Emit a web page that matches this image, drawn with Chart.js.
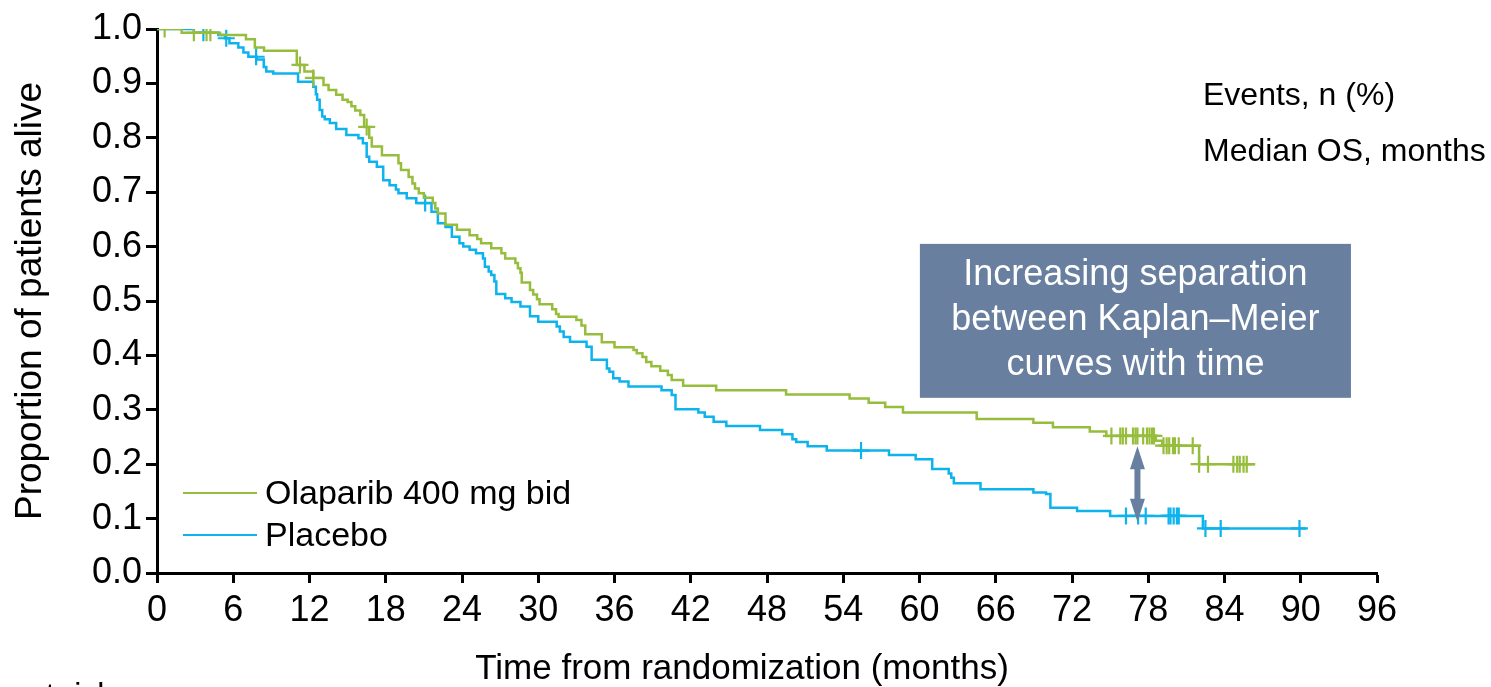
<!DOCTYPE html>
<html>
<head>
<meta charset="utf-8">
<script src="https://cdn.jsdelivr.net/npm/chart.js@4.4.1/dist/chart.umd.min.js"></script>
<style>
  html, body { margin: 0; padding: 0; background: #ffffff; overflow: hidden; }
  #wrap { width: 1491px; height: 687px; position: relative; }
</style>
</head>
<body>
<div id="wrap"><canvas id="km" width="1491" height="687"></canvas></div>
<script>
const FONT = '"Liberation Sans", Arial, Helvetica, sans-serif';
const GREEN = '#97bd3c';
const BLUE = '#0db3ec';
const NOTE = '#687f9f';

// Axis ticks
const xTickValues = [0, 6, 12, 18, 24, 30, 36, 42, 48, 54, 60, 66, 72, 78, 84, 90, 96];
const yTickValues = [0, 0.1, 0.2, 0.3, 0.4, 0.5, 0.6, 0.7, 0.8, 0.9, 1.0];

// Olaparib 400 mg bid: Kaplan–Meier step times (months) and survival after each step
const olaparibTimes = [0, 1.94, 4.96, 7.0, 7.7, 8.42, 11.0, 11.6, 12.3, 13.1, 13.5, 14.1, 14.6, 15.0, 15.3, 15.6, 16.0, 16.3, 16.7, 16.9,
  17.7, 19.0, 19.2, 19.8, 20.1, 20.3, 20.6, 21.0, 21.7, 21.9, 22.1, 22.7, 23.6, 24.6, 25.2, 25.5, 26.3, 27.1, 27.4, 28.2,
  28.4, 28.6, 28.7, 29.35, 29.6, 29.9, 30.1, 31.1, 31.4, 31.6, 33.0, 33.4, 33.7, 35.0, 36.0, 37.5, 37.75, 38.2, 38.5, 38.9,
  39.6, 40.2, 40.5, 41.4, 44.0, 49.5, 54.5, 56.0, 57.3, 58.7, 64.5, 68.96, 70.5, 73.4, 74.7, 78.6, 79.1, 82.0, 86.4];
const olaparibSurv = [1.0, 0.993, 0.989, 0.981, 0.966, 0.960, 0.934, 0.922, 0.910, 0.897, 0.888, 0.879, 0.870, 0.866, 0.858, 0.850, 0.842, 0.820, 0.800, 0.784,
  0.768, 0.753, 0.741, 0.728, 0.716, 0.707, 0.698, 0.690, 0.680, 0.670, 0.661, 0.640, 0.631, 0.621, 0.614, 0.606, 0.597, 0.588, 0.578, 0.570,
  0.560, 0.552, 0.534, 0.520, 0.512, 0.503, 0.494, 0.485, 0.476, 0.471, 0.465, 0.455, 0.439, 0.424, 0.415, 0.410, 0.404, 0.397, 0.388, 0.380,
  0.372, 0.364, 0.355, 0.344, 0.336, 0.328, 0.321, 0.313, 0.305, 0.295, 0.283, 0.276, 0.268, 0.260, 0.252, 0.243, 0.234, 0.200, 0.200];
const olaparibCensored = [0.6, 2.9, 3.9, 4.2, 11.25, 12.3, 16.5, 75.1, 75.8, 76.0, 76.25, 76.8, 77.0, 77.15, 77.6, 77.9, 78.1, 78.3, 78.45,
  79.2, 79.45, 79.65, 79.95, 80.1, 80.4, 81.5, 82.0, 82.7, 84.7, 85.0, 85.2, 85.5, 85.75];

// Placebo
const placeboTimes = [0, 2.9, 4.83, 5.35, 5.7, 6.4, 6.8, 7.19, 7.84, 8.4, 8.6, 9.15, 11.1, 12.3, 12.5, 12.6, 12.8, 13.0, 13.2, 13.6,
  14.1, 14.9, 15.85, 16.2, 16.5, 16.7, 17.3, 17.8, 18.3, 18.8, 19.0, 19.65, 20.4, 21.6, 22.1, 22.7, 23.2, 23.8, 24.1, 24.6,
  25.1, 25.65, 25.8, 26.1, 26.3, 26.55, 26.7, 27.4, 27.9, 28.6, 29.35, 30.0, 31.45, 31.7, 32.0, 32.5, 33.8, 34.2, 35.4, 35.6,
  35.9, 36.4, 37.1, 39.7, 40.5, 40.8, 42.6, 43.1, 43.8, 44.8, 47.45, 49.2, 50.0, 50.3, 51.2, 52.7, 57.6, 59.7, 61.0, 62.3,
  62.5, 62.7, 64.8, 68.96, 69.96, 70.3, 72.4, 75.0, 82.3, 90.4];
const placeboSurv = [1.0, 0.993, 0.989, 0.983, 0.974, 0.966, 0.957, 0.949, 0.944, 0.930, 0.922, 0.918, 0.903, 0.894, 0.880, 0.870, 0.851, 0.839, 0.834, 0.827,
  0.816, 0.805, 0.799, 0.790, 0.765, 0.756, 0.747, 0.722, 0.713, 0.705, 0.698, 0.689, 0.680, 0.664, 0.643, 0.636, 0.618, 0.606, 0.600, 0.594,
  0.588, 0.578, 0.563, 0.554, 0.548, 0.536, 0.513, 0.505, 0.498, 0.490, 0.472, 0.462, 0.453, 0.444, 0.434, 0.425, 0.416, 0.392, 0.376, 0.370,
  0.358, 0.352, 0.343, 0.336, 0.327, 0.301, 0.295, 0.287, 0.278, 0.270, 0.263, 0.255, 0.246, 0.241, 0.233, 0.225, 0.217, 0.209, 0.191, 0.183,
  0.175, 0.165, 0.154, 0.148, 0.145, 0.120, 0.114, 0.105, 0.082, 0.082];
const placeboCensored = [3.65, 5.45, 7.8, 21.1, 55.4, 76.25, 77.2, 77.8, 79.6, 79.75, 80.0, 80.25, 80.4, 82.5, 83.7, 89.9];

const seriesNames = ['Olaparib 400 mg bid', 'Placebo'];
const noteLines = ['Increasing separation', 'between Kaplan\u2013Meier', 'curves with time'];
const sideLabels = ['Events, n (%)', 'Median OS, months'];

function stepPoints(times, surv) {
  return times.map((t, i) => ({ x: t, y: surv[i] }));
}
function survivalAt(times, surv, t) {
  let s = surv[0];
  for (let i = 0; i < times.length; i++) { if (times[i] <= t) s = surv[i]; }
  return s;
}
function censorPoints(times, surv, censored) {
  return censored.map(t => ({ x: t, y: survivalAt(times, surv, t) }));
}

const overlay = {
  id: 'overlay',
  afterDraw(chart) {
    const ctx = chart.ctx;
    const xs = chart.scales.x, ys = chart.scales.y;
    ctx.save();
    ctx.fillStyle = '#000';

    // axis titles
    ctx.textAlign = 'center';
    ctx.textBaseline = 'middle';
    ctx.save();
    ctx.font = '37px ' + FONT;
    ctx.translate(31, (ys.top + ys.bottom) / 2);
    ctx.rotate(-Math.PI / 2);
    ctx.fillText('Proportion of patients alive', 0, 0);
    ctx.restore();
    ctx.font = '35px ' + FONT;
    ctx.fillText('Time from randomization (months)', 742, 669);

    // legend
    ctx.font = '34px ' + FONT;
    ctx.textAlign = 'left';
    [[GREEN, 493], [BLUE, 535]].forEach(([col, y], i) => {
      ctx.strokeStyle = col;
      ctx.lineWidth = 2;
      ctx.beginPath(); ctx.moveTo(183, y); ctx.lineTo(257, y); ctx.stroke();
      ctx.fillStyle = '#000';
      ctx.fillText(seriesNames[i], 265, y + 2);
    });

    // side labels
    ctx.font = '32px ' + FONT;
    ctx.fillText(sideLabels[0], 1203, 96);
    ctx.fillText(sideLabels[1], 1203, 152);

    // note box
    const bx0 = xs.getPixelForValue(60.03), bx1 = xs.getPixelForValue(93.95);
    const by0 = ys.getPixelForValue(0.605), by1 = ys.getPixelForValue(0.322);
    ctx.fillStyle = NOTE;
    ctx.fillRect(bx0, by0, bx1 - bx0, by1 - by0);
    ctx.fillStyle = '#fff';
    ctx.font = '36px ' + FONT;
    ctx.textAlign = 'center';
    ctx.textBaseline = 'alphabetic';
    const cx = (bx0 + bx1) / 2;
    noteLines.forEach((ln, i) => ctx.fillText(ln, cx, by0 + 41 + i * 45));

    // double-headed arrow between the curves
    const ax = xs.getPixelForValue(77.15);
    const aTop = ys.getPixelForValue(0.233), aBot = ys.getPixelForValue(0.094);
    const head = 23, hw = 7.5, sw = 3;
    ctx.fillStyle = NOTE;
    ctx.beginPath();
    ctx.moveTo(ax, aTop);
    ctx.lineTo(ax + hw, aTop + head);
    ctx.lineTo(ax + sw, aTop + head);
    ctx.lineTo(ax + sw, aBot - head);
    ctx.lineTo(ax + hw, aBot - head);
    ctx.lineTo(ax, aBot);
    ctx.lineTo(ax - hw, aBot - head);
    ctx.lineTo(ax - sw, aBot - head);
    ctx.lineTo(ax - sw, aTop + head);
    ctx.lineTo(ax - hw, aTop + head);
    ctx.closePath();
    ctx.fill();

    // number-at-risk heading below the plot
    ctx.fillStyle = '#000';
    ctx.font = '32px ' + FONT;
    ctx.textAlign = 'left';
    ctx.fillText('at risk', 28, 705);

    ctx.restore();
  }
};

const tickFont = { family: FONT, size: 36 };

new Chart(document.getElementById('km').getContext('2d'), {
  type: 'line',
  data: {
    datasets: [
      { label: seriesNames[0], data: stepPoints(olaparibTimes, olaparibSurv), borderColor: GREEN, borderWidth: 2.5,
        stepped: true, pointRadius: 0, fill: false },
      { label: seriesNames[0] + ' censored', data: censorPoints(olaparibTimes, olaparibSurv, olaparibCensored), showLine: false,
        pointStyle: 'cross', pointRadius: 8.5, pointBorderWidth: 2.2, borderColor: GREEN, backgroundColor: GREEN },
      { label: seriesNames[1], data: stepPoints(placeboTimes, placeboSurv), borderColor: BLUE, borderWidth: 2.5,
        stepped: true, pointRadius: 0, fill: false },
      { label: seriesNames[1] + ' censored', data: censorPoints(placeboTimes, placeboSurv, placeboCensored), showLine: false,
        pointStyle: 'cross', pointRadius: 8.5, pointBorderWidth: 2.2, borderColor: BLUE, backgroundColor: BLUE }
    ]
  },
  options: {
    responsive: false,
    animation: false,
    devicePixelRatio: 1,
    layout: { padding: { top: 29, right: 114, left: 0, bottom: 0 } },
    plugins: { legend: { display: false }, tooltip: { enabled: false } },
    scales: {
      x: {
        type: 'linear', min: 0, max: 96,
        afterBuildTicks: s => { s.ticks = xTickValues.map(v => ({ value: v })); },
        afterFit: s => { s.height = 114; },
        grid: { drawOnChartArea: false, drawTicks: true, tickLength: 10, tickWidth: 3, tickColor: '#000' },
        border: { color: '#000', width: 3 },
        ticks: { color: '#000', font: tickFont, padding: 6, maxRotation: 0, autoSkip: false }
      },
      y: {
        type: 'linear', min: 0, max: 1,
        afterBuildTicks: s => { s.ticks = yTickValues.map(v => ({ value: v })); },
        afterFit: s => { s.width = 157; },
        grid: { drawOnChartArea: false, drawTicks: true, tickLength: 11, tickWidth: 3, tickColor: '#000' },
        border: { color: '#000', width: 3 },
        ticks: { color: '#000', font: tickFont, padding: 4, callback: v => Number(v).toFixed(1) }
      }
    }
  },
  plugins: [overlay]
});
</script>
</body>
</html>
